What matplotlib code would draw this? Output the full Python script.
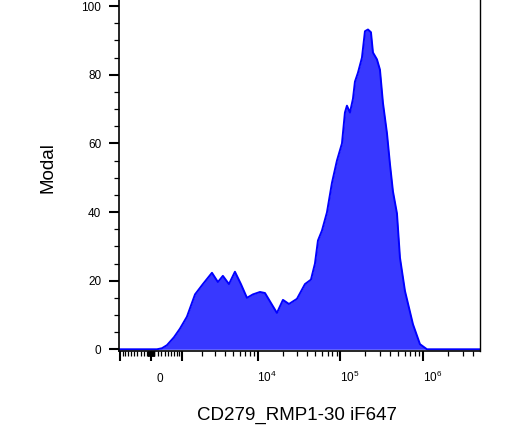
import numpy as np
import matplotlib
matplotlib.use('Agg')
import matplotlib.pyplot as plt
from matplotlib.transforms import ScaledTranslation

plt.rcParams['font.family'] = ['Liberation Sans', 'DejaVu Sans']

# fluorescence values (bin positions) and modal counts
fluor = [-1040, -640, -30, 173, 320, 474, 705, 923, 1212, 1604, 2062, 2716,
         3237, 3737, 4451, 5274, 6248, 7400, 8756, 10650, 12250, 14470,
         17100, 20220, 23900, 29850, 37300, 44070, 49270, 53550, 59850,
         68770, 79020, 90800, 104400, 113400, 119900, 130400, 141700,
         149800, 162900, 182000, 197900, 215100, 233800, 247200, 276200,
         300200, 326400, 364800, 396600, 431100, 481800, 523800, 601900,
         751800, 913200, 1109500, 4850000]
modal = [0, 0, 0, 0, 0.3, 1.2, 3.5, 6, 9.5, 16, 19, 22.3,
         19.6, 21.4, 19, 22.6, 19, 15, 16, 16.7, 16.4, 13.5,
         10.6, 14.4, 13.2, 14.7, 19, 20.3, 25, 31.7, 34.6,
         39.9, 48.5, 55, 60, 69, 71, 69, 73,
         78, 80.6, 85, 92.7, 93.2, 92.4, 86.5, 84.5,
         81.5, 71.8, 63, 54, 46, 39.6, 26.7, 17,
         7.3, 1.5, 0, 0]

major_x = [-1000, 0, 1000, 1e4, 1e5, 1e6]
major_x_labels = ['', '0', '', r'$\mathregular{10^4}$', r'$\mathregular{10^5}$',
                  r'$\mathregular{10^6}$']

C = 1030.0


def fwd(x):
    return np.arcsinh(np.asarray(x) / C) / np.log(10)


def inv(y):
    return C * np.sinh(np.asarray(y) * np.log(10))


fig = plt.figure(figsize=(5.2, 4.45), dpi=100)
ax = fig.add_axes([119 / 520, 94 / 445, 361 / 520, 351 / 445])
ax.set_xscale('function', functions=(fwd, inv))

ax.fill_between(fluor, modal, 0, color='#3838ff', linewidth=0)
ax.plot(fluor, modal, color='#0000ff', linewidth=1.4,
        solid_joinstyle='round')

ax.set_xlim(-1040, 4.85e6)
ax.set_ylim(-0.5, 101.8)

# ticks
minor_x = []
for n in range(1, 7):
    for k in range(1, 10):
        v = k * 10 ** n
        if v not in major_x and v < 4.8e6:
            minor_x.append(v)
        if -v > -1040 and -v not in major_x:
            minor_x.append(-v)
ax.set_xticks(major_x)
ax.set_xticklabels(major_x_labels)
ax.set_xticks(minor_x, minor=True)
ax.set_yticks([0, 20, 40, 60, 80, 100])
ax.set_yticks(np.arange(0, 101, 5), minor=True)

ax.tick_params(which='major', length=7.2, width=1.5, labelsize=8.5, colors='black')
ax.tick_params(which='minor', length=3.6, width=0.9)
ax.tick_params(axis='x', which='major', pad=15)
ax.tick_params(axis='y', which='major', pad=5.5)

offset = ScaledTranslation(9 / 100, 0, fig.dpi_scale_trans)
for lab in ax.xaxis.get_majorticklabels():
    lab.set_verticalalignment('baseline')
    lab.set_transform(lab.get_transform() + offset)

ax.spines['top'].set_visible(False)
ax.spines['left'].set_linewidth(1.2)
ax.spines['bottom'].set_linewidth(1.2)
ax.spines['right'].set_linewidth(1.0)

ax.set_xlabel('CD279_RMP1-30 iF647', fontsize=13.5)
ax.set_ylabel('Modal', fontsize=13.5)
ax.xaxis.set_label_coords(0.492, -0.16)
ax.yaxis.set_label_coords(-0.173, 0.522)

fig.savefig('out.png', dpi=100)
